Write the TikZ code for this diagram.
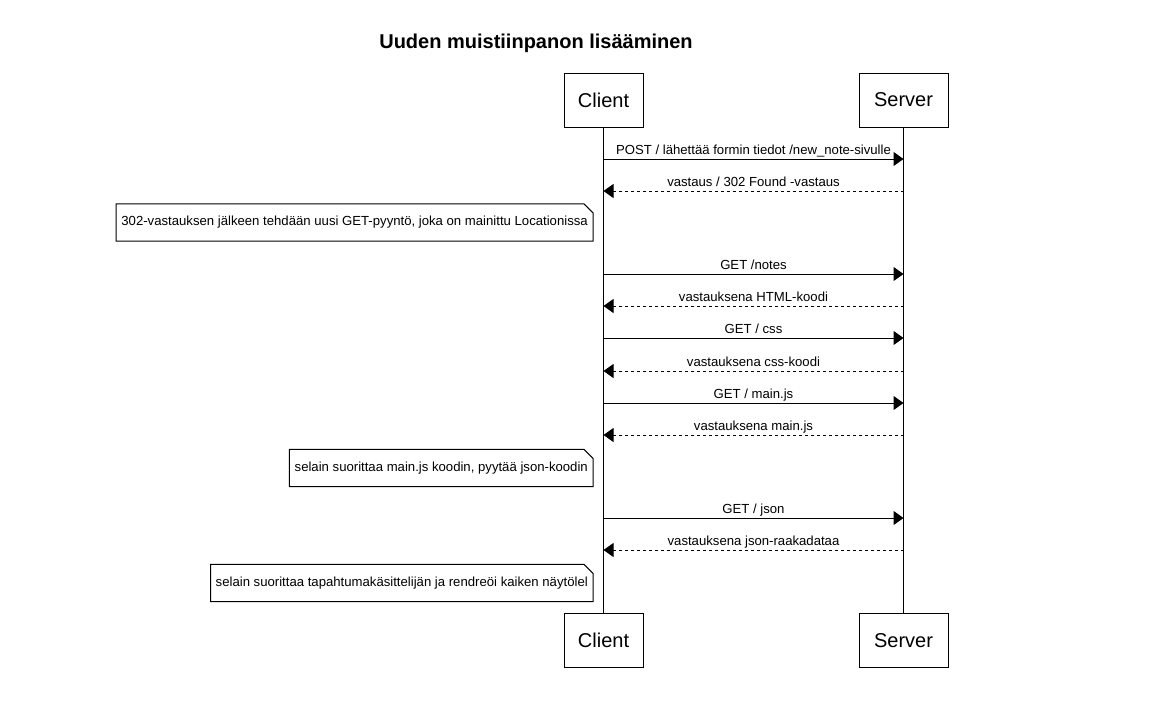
\documentclass[tikz,border=0pt]{standalone}
\usepackage{fontspec}
\setmainfont{Liberation Sans}
\usepackage{tikz}
\usetikzlibrary{positioning,arrows.meta,calc}

\begin{document}
\begin{tikzpicture}[
    x=1pt, y=-1pt,
    actor/.style={rectangle, draw=black, line width=1pt, fill=white, minimum height=54pt, inner xsep=0pt, font=\fontsize{20}{24}\selectfont},
    note/.style={rectangle, anchor=east, minimum height=37pt, inner xsep=5pt, inner ysep=0pt, font=\fontsize{13.15}{16}\selectfont},
    lifeline/.style={line width=1pt, black},
    req/.style={line width=1pt, -{Triangle[length=10pt, width=14pt]}},
    resp/.style={line width=1pt, dash pattern=on 3pt off 3pt, -{Triangle[length=10pt, width=14pt]}},
    msglabel/.style={midway, anchor=base, yshift=5pt, inner sep=0pt, font=\fontsize{13.15}{16}\selectfont}
]
\useasboundingbox (0,0) rectangle (1169,713);

% Title
\node[font=\fontsize{20}{24}\selectfont\bfseries] (title) at (536, 43) {Uuden muistiinpanon lisääminen};

% Participants
\node[actor, minimum width=79pt] (clientTop) at (603.5, 100) {Client};
\node[actor, minimum width=89pt] (serverTop) at (903.5, 100) {Server};
\node[actor, minimum width=79pt] (clientBot) at (603.5, 640.5) {Client};
\node[actor, minimum width=89pt] (serverBot) at (903.5, 640.5) {Server};

% Lifelines
\draw[lifeline] (clientTop) -- (clientBot);
\draw[lifeline] (serverTop) -- (serverBot);

% Messages
\draw[req] (clientTop.south |- 0,159) -- (serverTop.south |- 0,159)
    node[msglabel] {POST / lähettää formin tiedot /new\_note-sivulle};
\draw[resp] (serverTop.south |- 0,191) -- (clientTop.south |- 0,191)
    node[msglabel] {vastaus / 302 Found -vastaus};

% Note 1
\node[note] (note1) at (593, 222.5) {302-vastauksen jälkeen tehdään uusi GET-pyyntö, joka on mainittu Locationissa};

\draw[req] (clientTop.south |- 0,274) -- (serverTop.south |- 0,274)
    node[msglabel] {GET /notes};
\draw[resp] (serverTop.south |- 0,306) -- (clientTop.south |- 0,306)
    node[msglabel] {vastauksena HTML-koodi};
\draw[req] (clientTop.south |- 0,338) -- (serverTop.south |- 0,338)
    node[msglabel] {GET / css};
\draw[resp] (serverTop.south |- 0,371) -- (clientTop.south |- 0,371)
    node[msglabel] {vastauksena css-koodi};
\draw[req] (clientTop.south |- 0,403) -- (serverTop.south |- 0,403)
    node[msglabel] {GET / main.js};
\draw[resp] (serverTop.south |- 0,435) -- (clientTop.south |- 0,435)
    node[msglabel] {vastauksena main.js};

% Note 2
\node[note] (note2) at (593, 468) {selain suorittaa main.js koodin, pyytää json-koodin};

\draw[req] (clientTop.south |- 0,518) -- (serverTop.south |- 0,518)
    node[msglabel] {GET / json};
\draw[resp] (serverTop.south |- 0,550) -- (clientTop.south |- 0,550)
    node[msglabel] {vastauksena json-raakadataa};

% Note 3
\node[note] (note3) at (593, 583) {selain suorittaa tapahtumakäsittelijän ja rendreöi kaiken näytölel};

% Note outlines with cut corner
\foreach \n in {note1, note2, note3} {
    \draw[line width=1pt] (\n.south west) -- (\n.north west) -- ([xshift=-9pt]\n.north east)
        -- ([yshift=-9pt]\n.north east) -- (\n.south east) -- cycle;
}

\end{tikzpicture}
\end{document}
